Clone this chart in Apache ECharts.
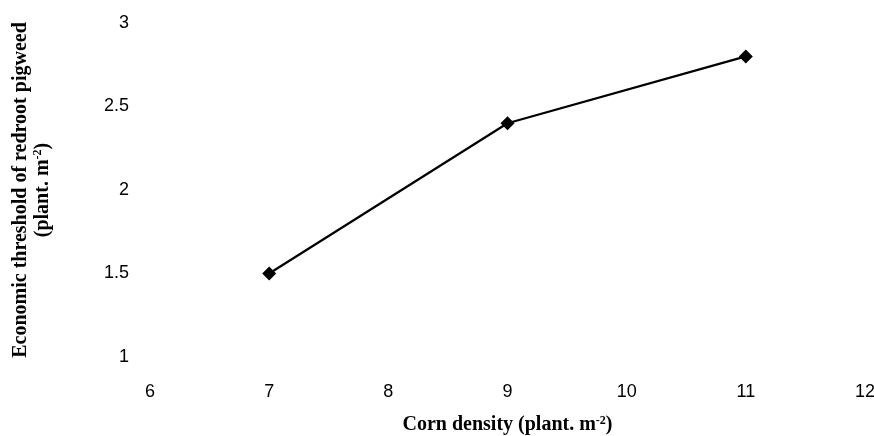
<!DOCTYPE html>
<html>
<head>
<meta charset="utf-8">
<script src="https://cdn.jsdelivr.net/npm/echarts@6/dist/echarts.min.js"></script>
<style>
  html, body { margin: 0; padding: 0; background: #fff; }
  #chart { width: 874px; height: 436px; }
</style>
</head>
<body>
<div id="chart"></div>
<script>
  // corn density (plant m-2) and economic threshold of redroot pigweed
  const cornDensity = [7, 9, 11]
  const threshold = [1.5, 2.4, 2.8]
  const xTicks = [6, 12]
  const yTicks = [1, 3]

  const chart = echarts.init(document.getElementById('chart'))

  const serif = '"Liberation Serif", "Times New Roman", serif'
  const sans = '"Liberation Sans", Arial, sans-serif'
  const supStyle = { fontFamily: serif, fontWeight: 'bold', fontSize: 12, verticalAlign: 'top', padding: [0, 0, 8, 0], color: '#000' }

  const option = {
    animation: false,
    backgroundColor: '#fff',
    grid: { left: 150, right: 9, top: 23, bottom: 79, outerBoundsMode: 'none', containLabel: false },
    xAxis: {
      type: 'value',
      min: xTicks[0],
      max: xTicks[1],
      interval: 1,
      axisLine: { show: false },
      axisTick: { show: false },
      splitLine: { show: false },
      axisLabel: { color: '#000', fontFamily: sans, fontSize: 18, margin: 26 },
      name: 'Corn density (plant. m{sup|-2})',
      nameLocation: 'middle',
      nameGap: 58,
      nameTextStyle: {
        color: '#000', fontFamily: serif, fontWeight: 'bold', fontSize: 20,
        rich: { sup: supStyle }
      }
    },
    yAxis: {
      type: 'value',
      min: yTicks[0],
      max: yTicks[1],
      interval: 0.5,
      axisLine: { show: false },
      axisTick: { show: false },
      splitLine: { show: false },
      axisLabel: { color: '#000', fontFamily: sans, fontSize: 18, margin: 21 },
      name: 'Economic threshold of redroot pigweed\n(plant. m{sup|-2})',
      nameLocation: 'middle',
      nameRotate: 90,
      nameGap: 96,
      nameTextStyle: {
        color: '#000', fontFamily: serif, fontWeight: 'bold', fontSize: 20, lineHeight: 22,
        rich: { sup: supStyle }
      }
    },
    series: [
      {
        type: 'line',
        data: cornDensity.map((x, i) => [x, threshold[i]]),
        symbol: 'diamond',
        symbolSize: 14,
        lineStyle: { color: '#000', width: 2.2 },
        itemStyle: { color: '#000' }
      }
    ]
  }
  chart.setOption(option)
</script>
</body>
</html>
